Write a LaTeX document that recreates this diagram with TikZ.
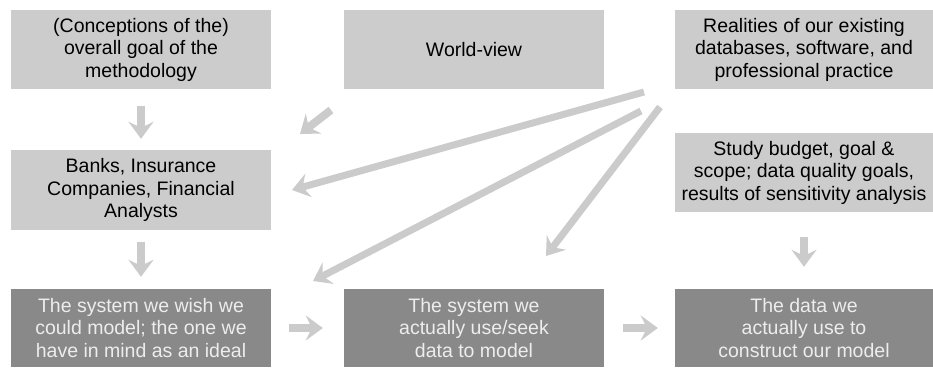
\documentclass[tikz,border=0pt]{standalone}
\usepackage{fontspec}
\setmainfont{Liberation Sans}
\usetikzlibrary{arrows.meta}
\definecolor{lightbox}{HTML}{CCCCCC}
\definecolor{darkbox}{HTML}{898989}
\definecolor{arrowgray}{HTML}{CBCBCB}
\definecolor{lighttext}{HTML}{EDEDED}
\begin{document}
\begin{tikzpicture}[x=1pt,y=-1pt,
 box/.style={draw=none, inner sep=0pt, align=center, font=\fontsize{19.5}{22.5}\selectfont},
 lbox/.style={box, fill=lightbox, text=black},
 dbox/.style={box, fill=darkbox, text=lighttext},
 fat/.style={draw=arrowgray, line width=8pt, -{Stealth[length=17pt,width=25pt,inset=6pt]}},
 longarrow/.style={draw=arrowgray, line width=7pt, -{Stealth[length=17pt,width=24pt,inset=6pt]}}]
\useasboundingbox (0,0) rectangle (933,367);
% top row
\node[lbox, minimum width=260pt, minimum height=79pt] (A) at (141,49.5) {(Conceptions of the)\\overall goal of the\\methodology};
\node[lbox, minimum width=260pt, minimum height=79pt] (B) at (474,49.5) {World-view};
\node[lbox, minimum width=258pt, minimum height=79pt] (C) at (804,49.5) {Realities of our existing\\databases, software, and\\professional practice};
% middle row
\node[lbox, minimum width=260pt, minimum height=80pt] (D) at (141,190) {Banks, Insurance\\Companies, Financial\\Analysts};
\node[lbox, minimum width=258pt, minimum height=79pt] (E) at (804,172.5) {Study budget, goal \&\\scope; data quality goals,\\results of sensitivity analysis};
% bottom row
\node[dbox, minimum width=260pt, minimum height=78pt] (F) at (141,328) {The system we wish we\\could model; the one we\\have in mind as an ideal};
\node[dbox, minimum width=260pt, minimum height=78pt] (G) at (474,328) {The system we\\actually use/seek\\data to model};
\node[dbox, minimum width=258pt, minimum height=78pt] (H) at (804,328) {The data we\\actually use to\\construct our model};
% short arrows
\draw[fat, shorten <=17pt, shorten >=11pt] (A.south) -- (D.north);
\draw[fat, shorten <=12pt, shorten >=12pt] (D.south) -- (F.north);
\draw[fat, shorten <=25pt, shorten >=22pt] (E.south) -- (H.north);
\draw[fat, shorten <=18pt, shorten >=21pt] (F.east) -- (G.west);
\draw[fat, shorten <=19pt, shorten >=17pt] (G.east) -- (H.west);
% world-view arrow
\coordinate (wv1) at (331,110);
\coordinate (wv2) at (300,134);
\draw[fat] (wv1) -- (wv2);
% long arrows from realities
\coordinate (r1) at (644,92);
\coordinate (r2) at (641,111);
\coordinate (r3) at (660,107);
\coordinate (t1) at (292,190);
\coordinate (t2) at (313,281);
\coordinate (t3) at (546,256);
\draw[longarrow] (r1) -- (t1);
\draw[longarrow] (r2) -- (t2);
\draw[longarrow] (r3) -- (t3);
\end{tikzpicture}
\end{document}
